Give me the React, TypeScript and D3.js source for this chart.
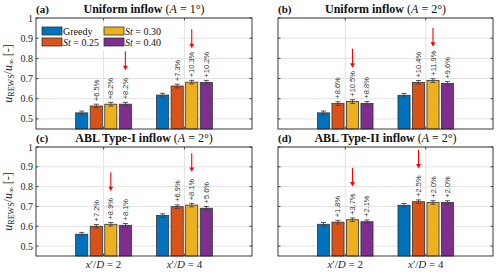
import * as d3 from "d3";

// categories and series
const groups = [2, 4];
const seriesNames = ["Greedy", "St = 0.25", "St = 0.30", "St = 0.40"];
const colors = ["#0072BD", "#D95319", "#EDB120", "#7E2F8E"];

// u_REWS / u_inf values, one row per x'/D
const valuesA = [
  [0.53, 0.564, 0.573, 0.573],
  [0.618, 0.663, 0.682, 0.681],
];
const valuesB = [
  [0.53, 0.576, 0.586, 0.577],
  [0.617, 0.681, 0.69, 0.676],
];
const valuesC = [
  [0.56, 0.6, 0.61, 0.605],
  [0.654, 0.699, 0.707, 0.691],
];
const valuesD = [
  [0.61, 0.621, 0.633, 0.623],
  [0.706, 0.724, 0.72, 0.72],
];

const gainsA = [
  ["", "+6.5%", "+8.2%", "+8.2%"],
  ["", "+7.3%", "+10.3%", "+10.2%"],
];
const gainsB = [
  ["", "+8.6%", "+10.5%", "+8.8%"],
  ["", "+10.4%", "+11.9%", "+9.6%"],
];
const gainsC = [
  ["", "+7.2%", "+8.9%", "+8.1%"],
  ["", "+6.9%", "+8.1%", "+5.6%"],
];
const gainsD = [
  ["", "+1.8%", "+3.7%", "+2.1%"],
  ["", "+2.5%", "+2.0%", "+2.0%"],
];

// which bar gets the red arrow in each group
const arrowsA = [3, 2];
const arrowsB = [2, 2];
const arrowsC = [2, 2];
const arrowsD = [2, 1];

const errSize = 0.009;
const yTicks = [0.5, 0.6, 0.7, 0.8, 0.9, 1];

const serif = "'Liberation Serif', 'DejaVu Serif', serif";
const sans = "'Liberation Sans', Arial, sans-serif";

interface PanelProps {
  left: number;
  right: number;
  top: number;
  bottom: number;
  values: number[][];
  gains: string[][];
  arrows: number[];
  label: string;
  title: string;
  amp: string;
  showY: boolean;
  showX: boolean;
  legend: boolean;
}

function Panel({
  left,
  right,
  top,
  bottom,
  values,
  gains,
  arrows,
  label,
  title,
  amp,
  showY,
  showX,
  legend,
}: PanelProps) {
  const x = d3.scaleLinear().domain([0.33, 5.67]).range([left, right]);
  const y = d3.scaleLinear().domain([0.45, 1]).range([bottom, top]);
  const step = 0.36;
  const barW = x(0.3) - x(0);
  const capW = 2.5;

  return (
    <g>
      {/* grid */}
      {yTicks.map((t) => (
        <line
          key={"gy" + t}
          x1={left}
          x2={right}
          y1={y(t)}
          y2={y(t)}
          stroke="#e3e3e3"
          strokeWidth={1}
        />
      ))}
      {groups.map((g) => (
        <line
          key={"gx" + g}
          x1={x(g)}
          x2={x(g)}
          y1={top}
          y2={bottom}
          stroke="#e3e3e3"
          strokeWidth={1}
        />
      ))}

      {/* bars */}
      {groups.map((g, gi) =>
        values[gi].map((v, si) => {
          const cx = x(g + (si - 1.5) * step);
          return (
            <g key={"b" + gi + si}>
              <rect
                x={cx - barW / 2}
                y={y(v)}
                width={barW}
                height={bottom - y(v)}
                fill={colors[si]}
                stroke="#333"
                strokeWidth={0.8}
              />
              <line
                x1={cx}
                x2={cx}
                y1={y(v - errSize)}
                y2={y(v + errSize)}
                stroke="#444"
                strokeWidth={0.9}
              />
              <line
                x1={cx - capW}
                x2={cx + capW}
                y1={y(v - errSize)}
                y2={y(v - errSize)}
                stroke="#444"
                strokeWidth={0.9}
              />
              <line
                x1={cx - capW}
                x2={cx + capW}
                y1={y(v + errSize)}
                y2={y(v + errSize)}
                stroke="#444"
                strokeWidth={0.9}
              />
              {gains[gi][si] && (
                <text
                  transform={`translate(${cx + 2.5},${y(v + errSize) - 3}) rotate(-90)`}
                  fontFamily={sans}
                  fontSize={7.5}
                  fill="#333"
                >
                  {gains[gi][si]}
                </text>
              )}
              {arrows[gi] === si && (
                <g>
                  <line
                    x1={cx}
                    x2={cx}
                    y1={y(v + 0.262)}
                    y2={y(v + 0.185)}
                    stroke="#ff0000"
                    strokeWidth={1.1}
                  />
                  <path
                    d={`M${cx - 2.4},${y(v + 0.19)} L${cx + 2.4},${y(v + 0.19)} L${cx},${y(v + 0.168)} Z`}
                    fill="#ff0000"
                  />
                </g>
              )}
            </g>
          );
        })
      )}

      {/* box and ticks */}
      <rect
        x={left}
        y={top}
        width={right - left}
        height={bottom - top}
        fill="none"
        stroke="#262626"
        strokeWidth={0.9}
      />
      {yTicks.map((t) => (
        <g key={"t" + t}>
          <line x1={left} x2={left + 2.5} y1={y(t)} y2={y(t)} stroke="#262626" strokeWidth={0.8} />
          <line x1={right - 2.5} x2={right} y1={y(t)} y2={y(t)} stroke="#262626" strokeWidth={0.8} />
          {showY && (
            <text
              x={left - 3}
              y={y(t)}
              dy="0.35em"
              textAnchor="end"
              fontFamily={serif}
              fontSize={10}
              fill="#262626"
            >
              {t === 1 ? "1" : d3.format(".1f")(t)}
            </text>
          )}
        </g>
      ))}
      {groups.map((g) => (
        <g key={"xt" + g}>
          <line x1={x(g)} x2={x(g)} y1={bottom} y2={bottom - 2.5} stroke="#262626" strokeWidth={0.8} />
          <line x1={x(g)} x2={x(g)} y1={top} y2={top + 2.5} stroke="#262626" strokeWidth={0.8} />
          {showX && (
            <text
              x={x(g)}
              y={bottom + 12}
              textAnchor="middle"
              fontFamily={serif}
              fontSize={11}
              fill="#262626"
            >
              <tspan fontStyle="italic">x</tspan>
              <tspan>′/</tspan>
              <tspan fontStyle="italic">D</tspan>
              <tspan> = {g}</tspan>
            </text>
          )}
        </g>
      ))}

      {/* y label */}
      {showY && (
        <text
          transform={`translate(${left - 24},${(top + bottom) / 2}) rotate(-90)`}
          textAnchor="middle"
          fontFamily={serif}
          fontSize={12}
          fill="#262626"
        >
          <tspan fontStyle="italic">u</tspan>
          <tspan fontSize={8} dy={2}>REWS</tspan>
          <tspan dy={-2}>/</tspan>
          <tspan fontStyle="italic">u</tspan>
          <tspan fontSize={8} dy={2}>∞</tspan>
          <tspan dy={-2}> [-]</tspan>
        </text>
      )}

      {/* title */}
      <text x={left} y={top - 5} fontFamily={serif} fontSize={11} fontWeight="bold" fill="#111">
        {label}
      </text>
      <text
        x={(left + right) / 2}
        y={top - 5}
        textAnchor="middle"
        fontFamily={serif}
        fontSize={12}
        fill="#111"
      >
        <tspan fontWeight="bold">{title} </tspan>
        <tspan>(</tspan>
        <tspan fontStyle="italic">A</tspan>
        <tspan> = {amp}°)</tspan>
      </text>

      {legend && (
        <g>
          <rect x={left + 3} y={top + 5} width={140} height={27} fill="white" />
          {seriesNames.map((s, i) => {
            const lx = left + 6 + Math.floor(i / 2) * 62;
            const ly = top + 9 + (i % 2) * 11;
            return (
              <g key={s}>
                <rect x={lx} y={ly} width={20} height={8} fill={colors[i]} stroke="#333" strokeWidth={0.8} />
                <text x={lx + 21} y={ly + 4} dy="0.35em" fontFamily={serif} fontSize={10} fill="#111">
                  {i === 0 ? (
                    "Greedy"
                  ) : (
                    <>
                      <tspan fontStyle="italic">St</tspan>
                      <tspan>{s.slice(2)}</tspan>
                    </>
                  )}
                </text>
              </g>
            );
          })}
        </g>
      )}
    </g>
  );
}

export default function App() {
  return (
    <svg
      width={500}
      height={276}
      style={{ position: "absolute", left: 0, top: 0, background: "white" }}
    >
      <Panel left={36} right={252} top={18} bottom={129} values={valuesA} gains={gainsA} arrows={arrowsA}
        label="(a)" title="Uniform inflow" amp="1" showY={true} showX={false} legend={true} />
      <Panel left={278} right={493} top={18} bottom={129} values={valuesB} gains={gainsB} arrows={arrowsB}
        label="(b)" title="Uniform inflow" amp="2" showY={false} showX={false} legend={false} />
      <Panel left={36} right={252} top={147} bottom={256} values={valuesC} gains={gainsC} arrows={arrowsC}
        label="(c)" title="ABL Type-I inflow" amp="2" showY={true} showX={true} legend={false} />
      <Panel left={278} right={493} top={147} bottom={256} values={valuesD} gains={gainsD} arrows={arrowsD}
        label="(d)" title="ABL Type-II inflow" amp="2" showY={false} showX={true} legend={false} />
    </svg>
  );
}
